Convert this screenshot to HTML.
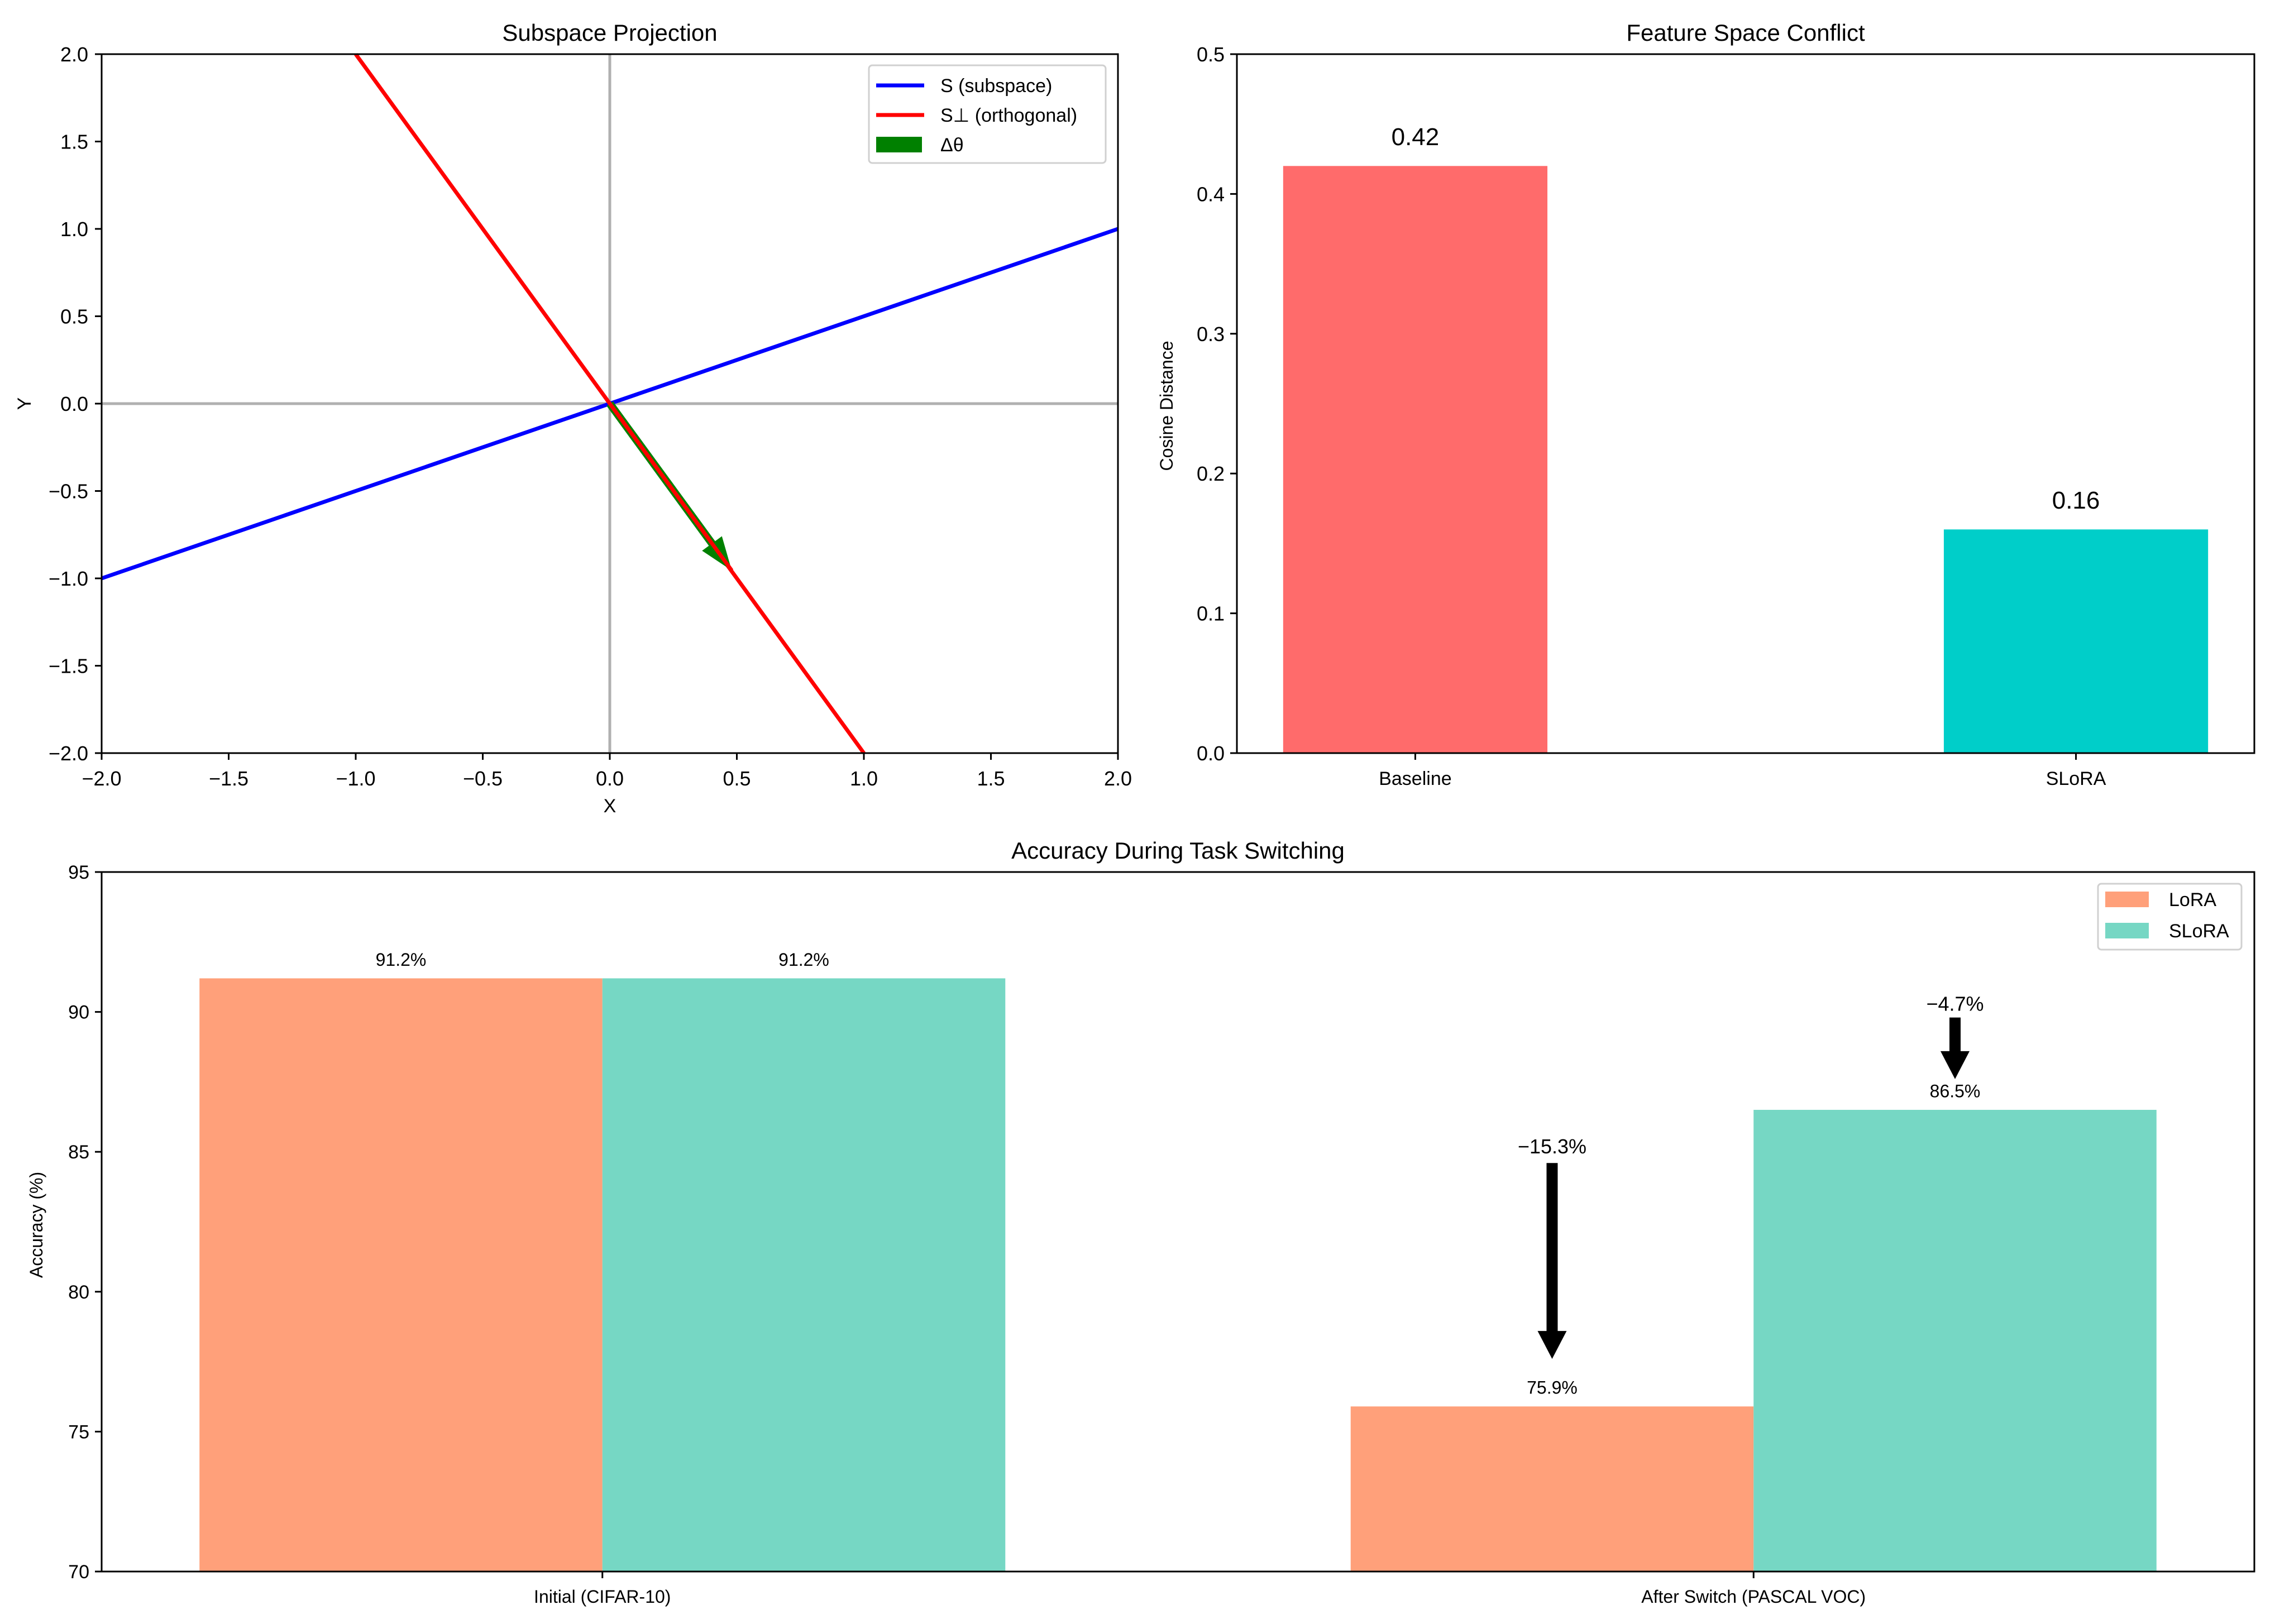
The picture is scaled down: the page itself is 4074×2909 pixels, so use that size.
<!DOCTYPE html>
<html><head><meta charset="utf-8"><style>
html,body{margin:0;padding:0;background:#fff;}
svg{display:block;font-family:"Liberation Sans",sans-serif;}
</style></head><body>
<svg id="fig" width="4074" height="2909" viewBox="0 0 4074 2909" xmlns="http://www.w3.org/2000/svg">
<rect width="4074" height="2909" fill="#fff"/>
<g id="p1"></g>
<g id="p2"></g>
<g id="p3"></g>
</svg>
<script>
// Panel 1 data
const p1Ticks = [-2.0,-1.5,-1.0,-0.5,0.0,0.5,1.0,1.5,2.0];
const subspaceLine = [[-2,-1],[2,1]];
const orthLine = [[-1,2],[1,-2]];
const deltaTheta = [0,0,0.48,-0.955];
// Panel 2 data
const p2Cats = ["Baseline","SLoRA"];
const p2Vals = [0.42,0.16];
const p2Labels = ["0.42","0.16"];
const p2Ticks = [0.0,0.1,0.2,0.3,0.4,0.5];
// Panel 3 data
const p3Cats = ["Initial (CIFAR-10)","After Switch (PASCAL VOC)"];
const loraVals = [91.2,75.9];
const sloraVals = [91.2,86.5];
const p3Ticks = [70,75,80,85,90,95];
const dropLabels = ["−15.3%","−4.7%"];
const dropTails = [84.6,89.8];
const dropTips = [77.6,87.6];
const dropTextY = [85.2,90.3];

const NS="http://www.w3.org/2000/svg";
function mk(parent,tag,attrs,text){const e=document.createElementNS(NS,tag);for(const k in attrs)e.setAttribute(k,attrs[k]);if(text!==undefined)e.textContent=text;parent.appendChild(e);return e;}
const fmt=v=>(v<0?"−":"")+Math.abs(v).toFixed(1);

// ---------- Panel 1 ----------
(function(){
const g=document.getElementById('p1');
const L=182,R=2002,T=97,B=1349;
const sx=v=>L+(v+2)/4*(R-L), sy=v=>B-(v+2)/4*(B-T);
let e;
e=mk(g,'line',{x1:sx(0),y1:T,x2:sx(0),y2:B,stroke:'#b0b0b0','stroke-width':5});


e=mk(g,'line',{x1:L,y1:sy(0),x2:R,y2:sy(0),stroke:'#b0b0b0','stroke-width':5});


e=mk(g,'line',{x1:sx(subspaceLine[0][0]),y1:sy(subspaceLine[0][1]),x2:sx(subspaceLine[1][0]),y2:sy(subspaceLine[1][1]),stroke:'#0000ff','stroke-width':7});


e=mk(g,'line',{x1:sx(orthLine[0][0]),y1:sy(orthLine[0][1]),x2:sx(orthLine[1][0]),y2:sy(orthLine[1][1]),stroke:'#ff0000','stroke-width':7});


const x0=sx(deltaTheta[0]),y0=sy(deltaTheta[1]),x1=sx(deltaTheta[2]),y1=sy(deltaTheta[3]);
const dx=x1-x0,dy=y1-y0,len=Math.hypot(dx,dy),ux=dx/len,uy=dy/len,px=-uy,py=ux;
const hl=60,hw=22,sw=7;
const bx=x1-ux*hl,by=y1-uy*hl;
const pts=[[x0+px*sw,y0+py*sw],[bx+px*sw,by+py*sw],[bx+px*hw,by+py*hw],[x1,y1],[bx-px*hw,by-py*hw],[bx-px*sw,by-py*sw],[x0-px*sw,y0-py*sw]];
e=mk(g,'polygon',{points:pts.map(p=>p.join(',')).join(' '),fill:'#008000'});


e=mk(g,'line',{x1:x0,y1:y0,x2:x1,y2:y1,stroke:'#ff0000','stroke-width':7});


e=mk(g,'rect',{x:L,y:T,width:R-L,height:B-T,fill:'none',stroke:'#000','stroke-width':3});


p1Ticks.forEach(v=>{
 e=mk(g,'line',{x1:sx(v),y1:B,x2:sx(v),y2:B+12,stroke:'#000','stroke-width':3});
 
 
 e=mk(g,'text',{x:sx(v),y:B+58,'font-size':36,'text-anchor':'middle'},fmt(v));
 
 
 e=mk(g,'line',{x1:L-12,y1:sy(v),x2:L,y2:sy(v),stroke:'#000','stroke-width':3});
 
 
 e=mk(g,'text',{x:L-24,y:sy(v)+13,'font-size':36,'text-anchor':'end'},fmt(v));
 
 
});
e=mk(g,'text',{x:(L+R)/2,y:73,'font-size':42,'text-anchor':'middle'},'Subspace Projection');


e=mk(g,'text',{x:(L+R)/2,y:1455,'font-size':34,'text-anchor':'middle'},'X');


e=mk(g,'text',{x:0,y:0,'font-size':34,'text-anchor':'middle',transform:`translate(55,${sy(0)}) rotate(-90)`},'Y');


const lg=mk(g,'g',{});


mk(lg,'rect',{x:1556,y:117,width:424,height:175,rx:6,fill:'#fff',stroke:'#d0d0d0','stroke-width':3});
const items=[['S (subspace)','#0000ff','line'],['S⊥ (orthogonal)','#ff0000','line'],['Δθ','#008000','patch']];
items.forEach((it,i)=>{
 const y=153+i*53;
 if(it[2]==='line'){e=mk(lg,'line',{x1:1569,y1:y,x2:1655,y2:y,stroke:it[1],'stroke-width':7});}
 else{e=mk(lg,'rect',{x:1569,y:y-14,width:82,height:28,fill:it[1]});}
 
 
 e=mk(lg,'text',{x:1684,y:y+12,'font-size':34},it[0]);
 
 
});
})();

// ---------- Panel 2 ----------
(function(){
const g=document.getElementById('p2');
const L=2215,R=4037,T=97,B=1349;
const xmin=-0.27,xmax=1.27;
const sx=v=>L+(v-xmin)/(xmax-xmin)*(R-L), sy=v=>B-v/0.5*(B-T);
const colors=['#ff6b6b','#00cec9'];
const bw=0.4;
let e;
p2Vals.forEach((v,i)=>{
 e=mk(g,'rect',{x:sx(i-bw/2),y:sy(v),width:sx(i+bw/2)-sx(i-bw/2),height:B-sy(v),fill:colors[i]});
 
 
 e=mk(g,'text',{x:sx(i),y:sy(v+0.015),'font-size':44,'text-anchor':'middle'},p2Labels[i]);
 
 
 e=mk(g,'line',{x1:sx(i),y1:B,x2:sx(i),y2:B+12,stroke:'#000','stroke-width':3});
 
 
 e=mk(g,'text',{x:sx(i),y:B+57,'font-size':34,'text-anchor':'middle'},p2Cats[i]);
 
 
});
e=mk(g,'rect',{x:L,y:T,width:R-L,height:B-T,fill:'none',stroke:'#000','stroke-width':3});


p2Ticks.forEach(v=>{
 e=mk(g,'line',{x1:L-12,y1:sy(v),x2:L,y2:sy(v),stroke:'#000','stroke-width':3});
 
 
 e=mk(g,'text',{x:L-22,y:sy(v)+13,'font-size':36,'text-anchor':'end'},v.toFixed(1));
 
 
});
e=mk(g,'text',{x:(L+R)/2,y:73,'font-size':42,'text-anchor':'middle'},'Feature Space Conflict');


e=mk(g,'text',{x:0,y:0,'font-size':32,'text-anchor':'middle',transform:`translate(2100,727) rotate(-90)`},'Cosine Distance');


})();

// ---------- Panel 3 ----------
(function(){
const g=document.getElementById('p3');
const L=182,R=4037,T=1562,B=2815;
const xmin=-0.435,xmax=1.435;
const sx=v=>L+(v-xmin)/(xmax-xmin)*(R-L), sy=v=>B-(v-70)/25*(B-T);
const bw=0.35;
let e;
p3Cats.forEach((c,i)=>{
 [[loraVals,'#ffa07a',-1,'lora'],[sloraVals,'#76d7c4',0,'slora']].forEach(s=>{
  const v=s[0][i], x0=i+s[2]*bw;
  e=mk(g,'rect',{x:sx(x0),y:sy(v),width:sx(x0+bw)-sx(x0),height:B-sy(v),fill:s[1]});
  
  
  e=mk(g,'text',{x:sx(x0+bw/2),y:sy(v+0.45),'font-size':32,'text-anchor':'middle'},v.toFixed(1)+'%');
  
  
 });
 e=mk(g,'line',{x1:sx(i),y1:B,x2:sx(i),y2:B+12,stroke:'#000','stroke-width':3});
 
 
 e=mk(g,'text',{x:sx(i),y:B+56,'font-size':32,'text-anchor':'middle'},c);
 
 
});
dropLabels.forEach((lab,i)=>{
 const x=sx(1+(i===0?-bw/2:bw/2));
 const yt=sy(dropTails[i]),yp=sy(dropTips[i]);
 const hl=50,hw=26,sw=10;
 const pts=[[x-sw,yt],[x+sw,yt],[x+sw,yp-hl],[x+hw,yp-hl],[x,yp],[x-hw,yp-hl],[x-sw,yp-hl]];
 e=mk(g,'polygon',{points:pts.map(p=>p.join(',')).join(' '),fill:'#000'});
 
 
 e=mk(g,'text',{x:x,y:sy(dropTextY[i])+13,'font-size':36,'text-anchor':'middle'},lab);
 
 
});
e=mk(g,'rect',{x:L,y:T,width:R-L,height:B-T,fill:'none',stroke:'#000','stroke-width':3});


p3Ticks.forEach(v=>{
 e=mk(g,'line',{x1:L-12,y1:sy(v),x2:L,y2:sy(v),stroke:'#000','stroke-width':3});
 
 
 e=mk(g,'text',{x:L-22,y:sy(v)+12,'font-size':34,'text-anchor':'end'},String(v));
 
 
});
e=mk(g,'text',{x:(L+R)/2,y:1538,'font-size':42,'text-anchor':'middle'},'Accuracy During Task Switching');


e=mk(g,'text',{x:0,y:0,'font-size':32,'text-anchor':'middle',transform:`translate(76,2194) rotate(-90)`},'Accuracy (%)');


const lg=mk(g,'g',{});


mk(lg,'rect',{x:3757,y:1583,width:257,height:118,rx:6,fill:'#fff',stroke:'#d0d0d0','stroke-width':3});
[['LoRA','#ffa07a'],['SLoRA','#76d7c4']].forEach((it,i)=>{
 const y=1597+i*56;
 e=mk(lg,'rect',{x:3770,y:y,width:78,height:28,fill:it[1]});
 
 
 e=mk(lg,'text',{x:3884,y:y+26,'font-size':34},it[0]);
 
 
});
})();
</script>
</body></html>
